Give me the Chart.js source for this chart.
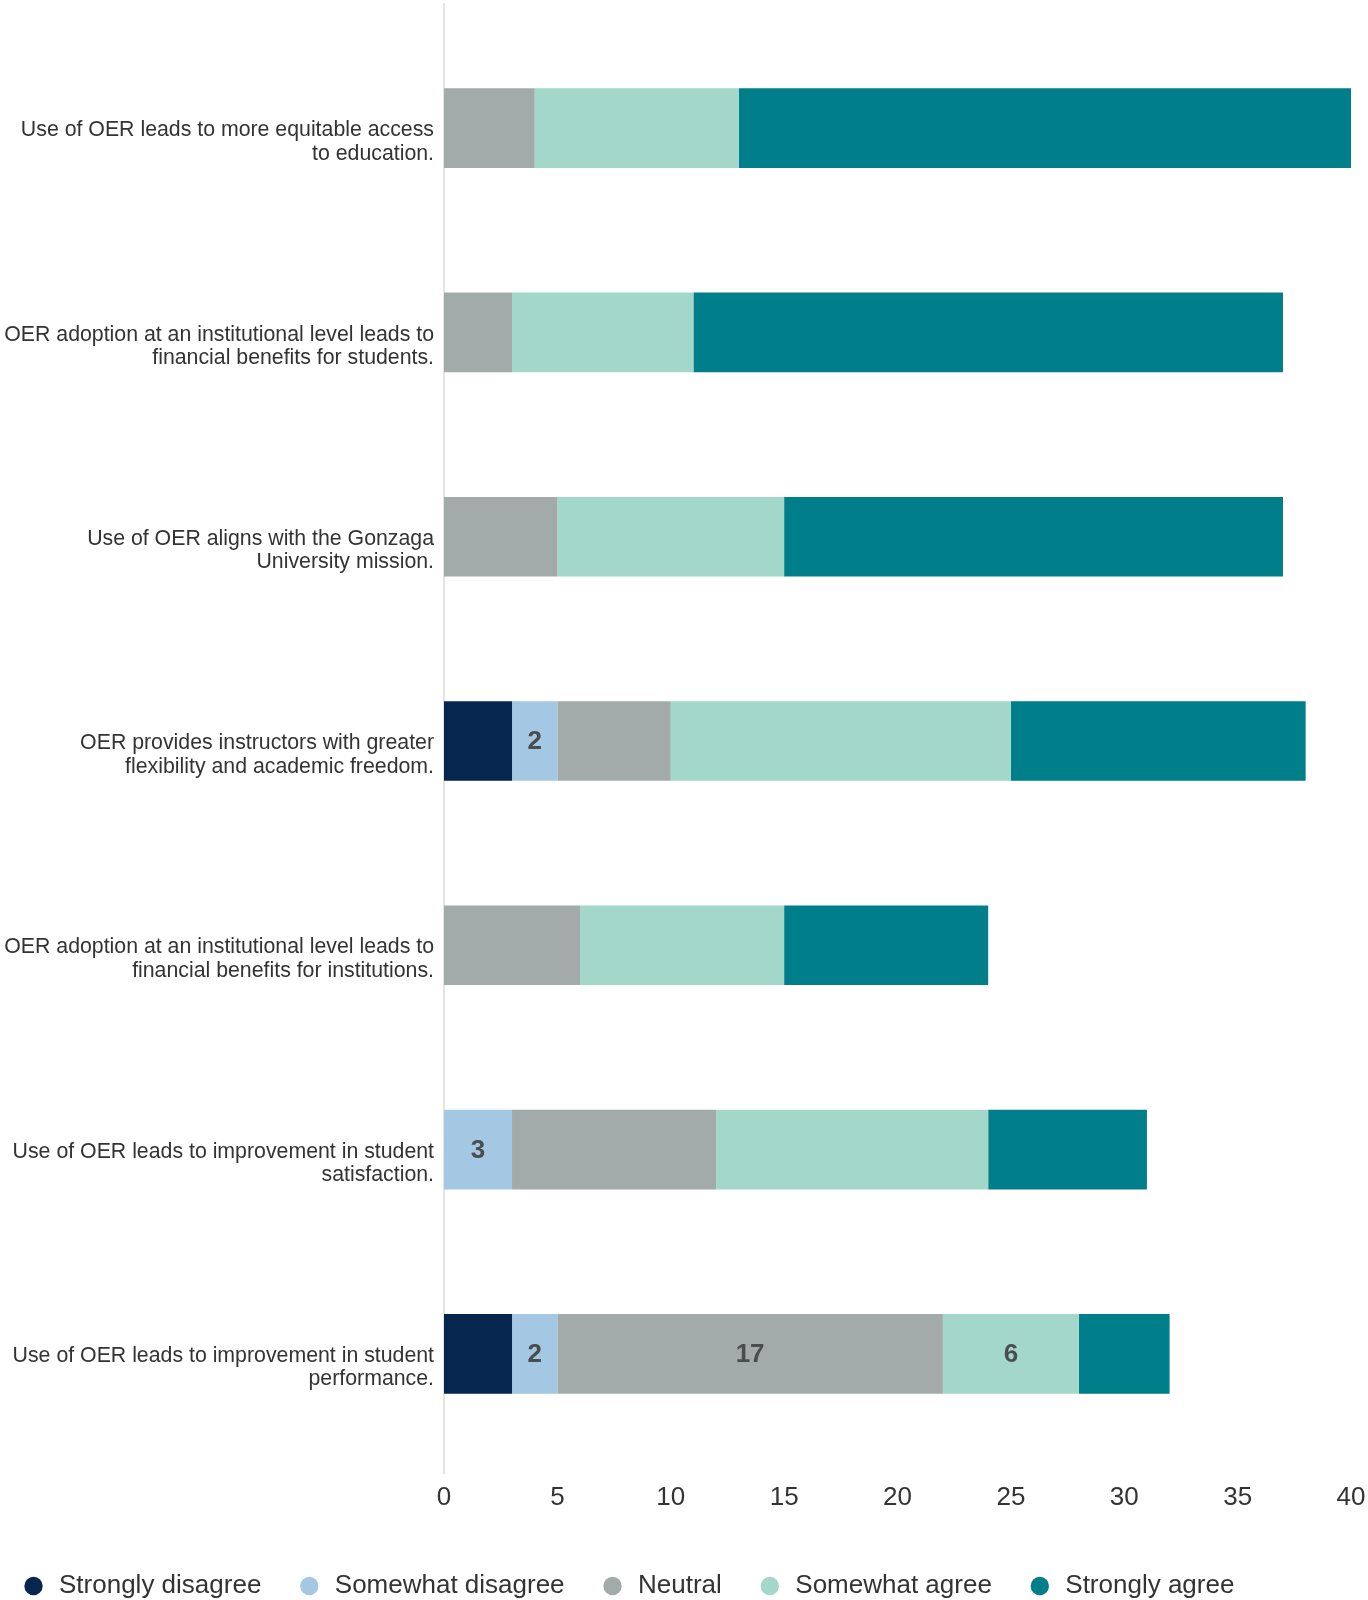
<!DOCTYPE html>
<html>
<head>
<meta charset="utf-8">
<title>OER survey</title>
<script src="https://cdn.jsdelivr.net/npm/chart.js@4/dist/chart.umd.min.js"></script>
<style>
    html, body { margin: 0; padding: 0; background: #ffffff; overflow: hidden; }
    #wrap { position: relative; width: 1368px; height: 1600px; }
</style>
</head>
<body>
<div id="wrap"><canvas id="oer-chart"></canvas></div>
<script>
var categories = [
    ["Use of OER leads to more equitable access", "to education."],
    ["OER adoption at an institutional level leads to", "financial benefits for students."],
    ["Use of OER aligns with the Gonzaga", "University mission."],
    ["OER provides instructors with greater", "flexibility and academic freedom."],
    ["OER adoption at an institutional level leads to", "financial benefits for institutions."],
    ["Use of OER leads to improvement in student", "satisfaction."],
    ["Use of OER leads to improvement in student", "performance."]
];

var seriesNames = ["Strongly disagree", "Somewhat disagree", "Neutral", "Somewhat agree", "Strongly agree"];
var seriesColors = ["#06264f", "#a4c8e3", "#a2abaa", "#a2d7ca", "#007e89"];

var stronglyDisagree = [0, 0, 0, 3, 0, 0, 3];
var somewhatDisagree = [0, 0, 0, 2, 0, 3, 2];
var neutral = [4, 3, 5, 5, 6, 9, 17];
var somewhatAgree = [9, 8, 10, 15, 9, 12, 6];
var stronglyAgree = [27, 26, 22, 13, 9, 7, 4];

var xTicks = [0, 5, 10, 15, 20, 25, 30, 35, 40];

// [dataset, category] pairs that carry a value label in the original
var labelledSegments = [[1, 3], [1, 5], [1, 6], [2, 6], [3, 6]];

var fontFamily = "'Liberation Sans', Arial, sans-serif";

var zeroLinePlugin = {
    id: 'zeroLine',
    beforeDatasetsDraw: function(chart) {
        var ctx = chart.ctx;
        var area = chart.chartArea;
        var x = chart.scales.x.getPixelForValue(0);
        ctx.save();
        ctx.strokeStyle = "#e4e4e4";
        ctx.lineWidth = 2;
        ctx.beginPath();
        ctx.moveTo(x, area.top - 23);
        ctx.lineTo(x, area.bottom + 18);
        ctx.stroke();
        ctx.restore();
    }
};

var segmentLabelPlugin = {
    id: 'segmentLabels',
    afterDatasetsDraw: function(chart) {
        var ctx = chart.ctx;
        ctx.save();
        ctx.font = "bold 26px " + fontFamily;
        ctx.fillStyle = "#4a4d4e";
        ctx.textAlign = "center";
        ctx.textBaseline = "middle";
        for (var i = 0; i < labelledSegments.length; i++) {
            var ds = labelledSegments[i][0];
            var idx = labelledSegments[i][1];
            var bar = chart.getDatasetMeta(ds).data[idx];
            var value = chart.data.datasets[ds].data[idx];
            ctx.fillText(String(value), (bar.x + bar.base) / 2, bar.y + 1);
        }
        ctx.restore();
    }
};

function buildDatasets() {
    var values = [stronglyDisagree, somewhatDisagree, neutral, somewhatAgree, stronglyAgree];
    var datasets = [];
    for (var i = 0; i < seriesNames.length; i++) {
        datasets.push({
            label: seriesNames[i],
            data: values[i],
            backgroundColor: seriesColors[i],
            borderWidth: 0,
            barPercentage: 0.39,
            categoryPercentage: 1.0
        });
    }
    return datasets;
}

var chart = new Chart(document.getElementById('oer-chart').getContext('2d'), {
    type: 'bar',
    data: {
        labels: categories,
        datasets: buildDatasets()
    },
    plugins: [zeroLinePlugin, segmentLabelPlugin],
    options: {
        indexAxis: 'y',
        responsive: true,
        maintainAspectRatio: false,
        animation: false,
        layout: {
            autoPadding: false,
            padding: {top: 26, right: 17, bottom: -9, left: 0}
        },
        scales: {
            x: {
                stacked: true,
                min: 0,
                max: 40,
                afterBuildTicks: function(scale) {
                    scale.ticks = xTicks.map(function(v) { return {value: v}; });
                },
                afterFit: function(scale) {
                    scale.height = 96;
                    scale.paddingLeft = 0;
                    scale.paddingRight = 0;
                },
                grid: {display: false, drawTicks: false},
                border: {display: false},
                ticks: {
                    padding: 26,
                    color: "#333333",
                    font: {family: fontFamily, size: 26}
                }
            },
            y: {
                stacked: true,
                afterFit: function(scale) {
                    scale.width = 444;
                    scale.paddingTop = 0;
                    scale.paddingBottom = 0;
                },
                grid: {display: false, drawTicks: false},
                border: {display: false},
                ticks: {
                    padding: 10,
                    labelOffset: 14,
                    color: "#333333",
                    font: {family: fontFamily, size: 21.3, lineHeight: 1.1}
                }
            }
        },
        plugins: {
            tooltip: {enabled: false},
            legend: {
                position: 'bottom',
                align: 'start',
                labels: {
                    usePointStyle: true,
                    pointStyle: 'circle',
                    boxHeight: 13,
                    boxWidth: 25,
                    padding: 21,
                    color: "#333333",
                    font: {family: fontFamily, size: 26},
                    generateLabels: function(c) {
                        var items = Chart.defaults.plugins.legend.labels.generateLabels(c);
                        items.forEach(function(it) { it.text = it.text + "  "; });
                        return items;
                    }
                }
            }
        }
    }
});
</script>
</body>
</html>
